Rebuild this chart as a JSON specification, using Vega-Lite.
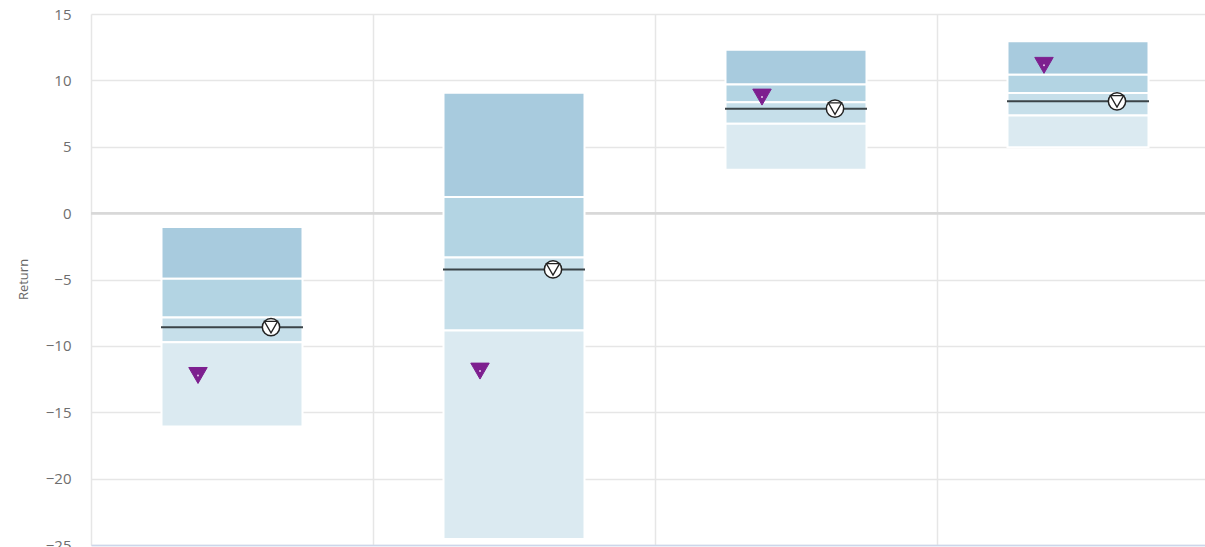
{
  "$schema": "https://vega.github.io/schema/vega-lite/v6.json",
  "autosize": "none",
  "padding": {"left": 91, "top": 14, "right": 0, "bottom": 20},
  "width": 1128,
  "height": 531,
  "config": {
    "view": {"stroke": null},
    "font": "Open Sans",
    "axis": {"labelFont": "Open Sans", "titleFont": "Open Sans"}
  },
  "datasets": {
    "bands": [
      {"period": "1 Year", "band": "Q1", "hi": -1.05, "lo": -4.94},
      {"period": "1 Year", "band": "Q2", "hi": -4.94, "lo": -7.86},
      {"period": "1 Year", "band": "Q3", "hi": -7.86, "lo": -9.72},
      {"period": "1 Year", "band": "Q4", "hi": -9.72, "lo": -16.07},
      {"period": "3 Years", "band": "Q1", "hi": 9.07, "lo": 1.21},
      {"period": "3 Years", "band": "Q2", "hi": 1.21, "lo": -3.34},
      {"period": "3 Years", "band": "Q3", "hi": -3.34, "lo": -8.84},
      {"period": "3 Years", "band": "Q4", "hi": -8.84, "lo": -24.54},
      {"period": "5 Years", "band": "Q1", "hi": 12.31, "lo": 9.68},
      {"period": "5 Years", "band": "Q2", "hi": 9.68, "lo": 8.36},
      {"period": "5 Years", "band": "Q3", "hi": 8.36, "lo": 6.74},
      {"period": "5 Years", "band": "Q4", "hi": 6.74, "lo": 3.27},
      {"period": "10 Years", "band": "Q1", "hi": 12.94, "lo": 10.43},
      {"period": "10 Years", "band": "Q2", "hi": 10.43, "lo": 9.04},
      {"period": "10 Years", "band": "Q3", "hi": 9.04, "lo": 7.36},
      {"period": "10 Years", "band": "Q4", "hi": 7.36, "lo": 4.97}
    ],
    "markers": [
      {"period": "1 Year", "fund": -8.59, "bench": -12.23},
      {"period": "3 Years", "fund": -4.24, "bench": -11.9},
      {"period": "5 Years", "fund": 7.87, "bench": 8.74},
      {"period": "10 Years", "fund": 8.42, "bench": 11.13}
    ]
  },
  "encoding": {
    "x": {
      "field": "period",
      "type": "nominal",
      "sort": ["1 Year", "3 Years", "5 Years", "10 Years"],
      "scale": {"paddingInner": 0, "paddingOuter": 0},
      "axis": {
        "title": null,
        "labels": false,
        "ticks": false,
        "grid": true,
        "bandPosition": 0,
        "gridColor": "#e6e6e6",
        "gridWidth": 1.5,
        "domainColor": "#ccd6eb",
        "domainWidth": 1.5
      }
    }
  },
  "layer": [
    {
      "data": {"name": "markers"},
      "mark": {"type": "rule", "color": "#d8d8d8", "strokeWidth": 2},
      "encoding": {
        "x": null,
        "y": {"datum": 0, "type": "quantitative",
          "scale": {"domain": [-25, 15], "nice": false, "zero": false},
          "axis": {
            "title": "Return",
            "values": [-25, -20, -15, -10, -5, 0, 5, 10, 15],
            "grid": true,
            "gridColor": "#e6e6e6",
            "gridWidth": 1.5,
            "domain": false,
            "ticks": false,
            "labelPadding": 20,
            "labelFontSize": 15,
            "labelColor": "#6e6e6e",
            "titleColor": "#666666",
            "titleFontSize": 13,
            "titleFontWeight": "normal",
            "titleAngle": -90,
            "titleBaseline": "middle",
            "titleX": -68,
            "titleY": 265
          }
        }
      }
    },
    {
      "data": {"name": "bands"},
      "mark": {"type": "bar", "width": {"band": 0.5}, "stroke": "#ffffff", "strokeWidth": 2},
      "encoding": {
        "y": {"field": "hi", "type": "quantitative"},
        "y2": {"field": "lo"},
        "color": {
          "field": "band",
          "type": "nominal",
          "scale": {"domain": ["Q1", "Q2", "Q3", "Q4"], "range": ["#a8cbde", "#b3d4e3", "#c6dfea", "#dbeaf1"]},
          "legend": null
        }
      }
    },
    {
      "data": {"name": "markers"},
      "mark": {"type": "tick", "orient": "horizontal", "size": 142, "thickness": 2, "color": "#3b4448", "opacity": 1},
      "encoding": {"y": {"field": "fund", "type": "quantitative"}}
    },
    {
      "data": {"name": "markers"},
      "mark": {"type": "point", "shape": "circle", "size": 300, "filled": true, "fill": "#ffffff", "stroke": "#222222", "strokeWidth": 1.5, "opacity": 1, "xOffset": 39},
      "encoding": {"y": {"field": "fund", "type": "quantitative"}}
    },
    {
      "data": {"name": "markers"},
      "mark": {"type": "point", "shape": "triangle-down", "size": 175, "filled": true, "fill": "#ffffff", "stroke": "#222222", "strokeWidth": 1.3, "opacity": 1, "xOffset": 39},
      "encoding": {"y": {"field": "fund", "type": "quantitative"}}
    },
    {
      "data": {"name": "markers"},
      "mark": {"type": "point", "shape": "triangle-down", "size": 340, "filled": true, "fill": "#7d1f8f", "stroke": "#7d1f8f", "strokeWidth": 1, "strokeJoin": "round", "opacity": 1, "xOffset": -34},
      "encoding": {"y": {"field": "bench", "type": "quantitative"}}
    },
    {
      "data": {"name": "markers"},
      "mark": {"type": "point", "shape": "circle", "size": 4, "filled": true, "fill": "#e8c8ee", "opacity": 1, "xOffset": -34},
      "encoding": {"y": {"field": "bench", "type": "quantitative"}}
    }
  ]
}
